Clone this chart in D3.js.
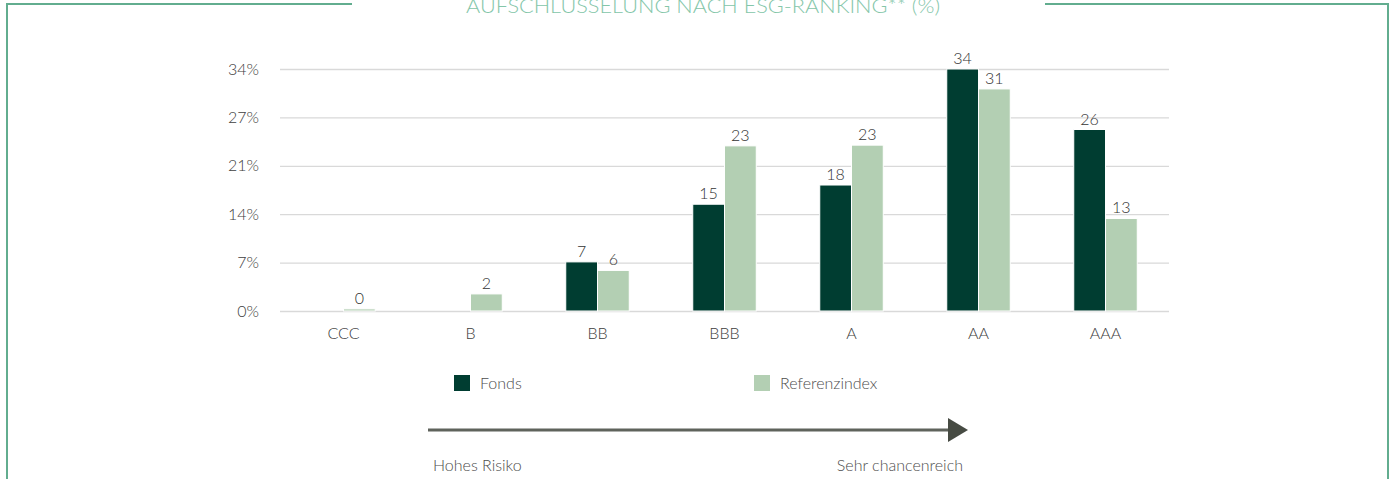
<!DOCTYPE html>
<html>
<head>
<meta charset="utf-8">
<script src="https://cdn.jsdelivr.net/npm/d3@7"></script>
<style>
  body { margin: 0; background: #fff; }
  svg { display: block; font-family: Lato, "Open Sans", sans-serif; font-weight: 300; }
</style>
</head>
<body>
<svg id="chart"></svg>
<script>
// chart data
const categories = ["CCC", "B", "BB", "BBB", "A", "AA", "AAA"];
const fondsValues = [null, null, 6.9, 15.0, 17.7, 34.0, 25.5];
const refValues = [0.3, 2.4, 5.7, 23.2, 23.3, 31.2, 13.0];
const seriesNames = ["Fonds", "Referenzindex"];
const tickValues = [0, 6.8, 13.6, 20.4, 27.2, 34];
const tickLabels = ["0%", "7%", "14%", "21%", "27%", "34%"];

const W = 1392, H = 479;
const colors = {Fonds: "#003d31", Referenzindex: "#b3cfb3"};
const margin = {top: 69, left: 280, right: W - 1169, bottom: H - 311};

const svg = d3.select("#chart").attr("width", W).attr("height", H);

// frame around the chart
const frame = "#62ad8f";
svg.append("line").attr("x1", 7).attr("x2", 352).attr("y1", 4).attr("y2", 4)
  .attr("stroke", frame).attr("stroke-width", 2);
svg.append("line").attr("x1", 1045).attr("x2", 1389).attr("y1", 4).attr("y2", 4)
  .attr("stroke", frame).attr("stroke-width", 2);
svg.append("line").attr("x1", 7).attr("x2", 7).attr("y1", 3).attr("y2", H)
  .attr("stroke", frame).attr("stroke-width", 2);
svg.append("line").attr("x1", 1388).attr("x2", 1388).attr("y1", 3).attr("y2", H)
  .attr("stroke", frame).attr("stroke-width", 2);

// title (cut at top like the original)
svg.append("text")
  .attr("x", 466).attr("y", 13)
  .attr("textLength", 474).attr("lengthAdjust", "spacingAndGlyphs")
  .style("font-size", "19px")
  .attr("fill", "#84c6a9")
  .text("AUFSCHLÜSSELUNG NACH ESG-RANKING** (%)");

const width = W - margin.left - margin.right;
const height = H - margin.top - margin.bottom;

const x0 = d3.scaleBand().domain(categories).range([0, width])
  .paddingInner(0.5).paddingOuter(0.25);
const x1 = d3.scaleBand().domain(seriesNames).range([0, x0.bandwidth()]);
const y = d3.scaleLinear().domain([0, 34]).range([height, 0]);

const g = svg.append("g").attr("transform", `translate(${margin.left},${margin.top})`);

// grid lines
g.append("g")
  .call(d3.axisLeft(y).tickValues(tickValues).tickSize(-width).tickFormat(""))
  .call(a => a.select(".domain").remove())
  .call(a => a.selectAll("line").attr("stroke", "#d9d9d9").attr("stroke-width", 1.3));

// y tick labels
g.append("g")
  .call(d3.axisLeft(y).tickValues(tickValues).tickSize(0).tickPadding(21)
    .tickFormat((d, i) => tickLabels[i]))
  .call(a => a.select(".domain").remove())
  .call(a => a.selectAll("text").attr("fill", "#404040")
    .style("font-size", "16px").style("font-family", "Lato, sans-serif").style("font-weight", 300));

// x labels
g.append("g")
  .attr("transform", `translate(0,${height})`)
  .call(d3.axisBottom(x0).tickSize(0).tickPadding(17))
  .call(a => a.select(".domain").remove())
  .call(a => a.selectAll("text").attr("fill", "#404040")
    .style("font-size", "16px").style("font-family", "Lato, sans-serif").style("font-weight", 300));

const rows = categories.map((c, i) => ({
  cat: c,
  vals: [{s: "Fonds", v: fondsValues[i]}, {s: "Referenzindex", v: refValues[i]}]
}));

const grp = g.selectAll(".grp").data(rows).join("g")
  .attr("transform", d => `translate(${x0(d.cat)},0)`);

const bars = grp.selectAll("g").data(d => d.vals.filter(v => v.v != null)).join("g");

bars.append("rect")
  .attr("x", d => x1(d.s))
  .attr("y", d => y(d.v))
  .attr("width", x1.bandwidth())
  .attr("height", d => height - y(d.v))
  .attr("fill", d => colors[d.s])
  .attr("stroke", "#fff").attr("stroke-width", 1);

bars.append("text")
  .attr("x", d => x1(d.s) + x1.bandwidth() / 2)
  .attr("y", d => y(d.v) - 5)
  .attr("text-anchor", "middle")
  .attr("fill", "#333333")
  .style("font-size", "16px")
  .text(d => Math.round(d.v));

// legend
const legendX = [454, 754];
seriesNames.forEach((s, i) => {
  svg.append("rect").attr("x", legendX[i]).attr("y", 375).attr("width", 16).attr("height", 16)
    .attr("fill", colors[s]);
  svg.append("text").attr("x", legendX[i] + 26).attr("y", 389)
    .attr("fill", "#4d4d4d").style("font-size", "16px").text(s);
});

// risk arrow
svg.append("line").attr("x1", 428).attr("x2", 950).attr("y1", 430).attr("y2", 430)
  .attr("stroke", "#5f635c").attr("stroke-width", 3);
svg.append("path").attr("d", "M948,418 L968,430 L948,442 Z").attr("fill", "#474b43");

svg.append("text").attr("x", 433).attr("y", 471).attr("fill", "#4d4d4d")
  .style("font-size", "16px").text("Hohes Risiko");
svg.append("text").attr("x", 963).attr("y", 471).attr("text-anchor", "end").attr("fill", "#4d4d4d")
  .style("font-size", "16px").text("Sehr chancenreich");
</script>
</body>
</html>
